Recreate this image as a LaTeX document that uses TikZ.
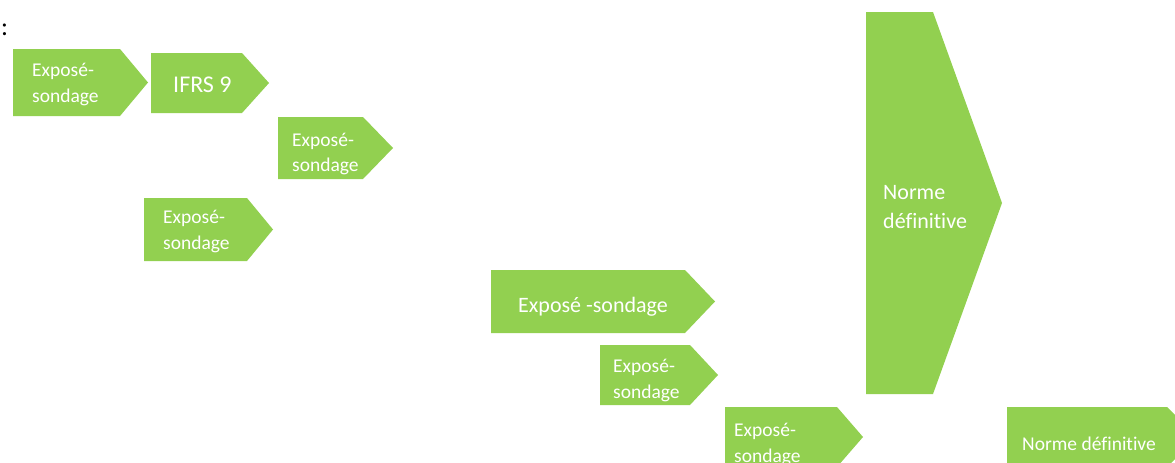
\documentclass[tikz,border=0pt]{standalone}
\usepackage{fontspec}
\setmainfont{Carlito}[Ligatures=NoCommon]
\definecolor{ogreen}{HTML}{92D050}
\tikzset{
  chev/.style={fill=ogreen},
  lbl/.style={text=white, anchor=base west, inner sep=0pt, font=\fontsize{19.5}{24}\selectfont},
  lblbig/.style={lbl, font=\fontsize{22}{26}\selectfont},
  lblifrs/.style={lbl, font=\fontsize{24}{28}\selectfont},
}
% left, top, shoulder x, tip x, bottom
\newcommand\chevshape[5]{\fill[chev] (#1,#2) -- (#3,#2) -- (#4,{(#2+#5)/2}) -- (#3,#5) -- (#1,#5) -- cycle;}
\begin{document}
\begin{tikzpicture}[x=1pt,y=-1pt]
\clip (0,0) rectangle (1175,463);
\fill[white] (0,0) rectangle (1175,463);
\node[anchor=base west, inner sep=0pt, font=\fontsize{26}{28}\selectfont] (colon) at (1,35) {:};
% box 1
\chevshape{13}{49}{120}{148}{116}
\node[lbl] (a1) at (32,76) {Exposé-};
\node[lbl] (a2) at (32,102) {sondage};
% IFRS 9
\chevshape{151}{53}{242}{269}{113}
\node[lblifrs] (ifrs) at (173,92) {IFRS 9};
% box 3
\chevshape{278}{117}{363}{393}{179}
\node[lbl] (b1) at (292,146) {Exposé-};
\node[lbl] (b2) at (292,171) {sondage};
% box 4
\chevshape{144}{198}{247}{273}{261}
\node[lbl] (c1) at (163,223) {Exposé-};
\node[lbl] (c2) at (163,249) {sondage};
% box 5
\chevshape{491}{270}{685}{715}{333}
\node[lblbig] (d) at (518,312) {Exposé -sondage};
% box 6
\chevshape{600}{345}{690}{718}{405}
\node[lbl] (e1) at (613,372) {Exposé-};
\node[lbl] (e2) at (613,398) {sondage};
% box 7
\chevshape{725}{407}{837}{863}{467}
\node[lbl] (f1) at (734,436) {Exposé-};
\node[lbl] (f2) at (734,462) {sondage};
% big norme
\chevshape{866}{12}{933}{1002}{394}
\node[lblbig] (g1) at (883,199) {Norme};
\node[lblbig] (g2) at (883,228) {définitive};
% bottom-right norme
\chevshape{1007}{407}{1167}{1197}{467}
\node[lbl] (h) at (1022,450) {Norme définitive};
\end{tikzpicture}
\end{document}
